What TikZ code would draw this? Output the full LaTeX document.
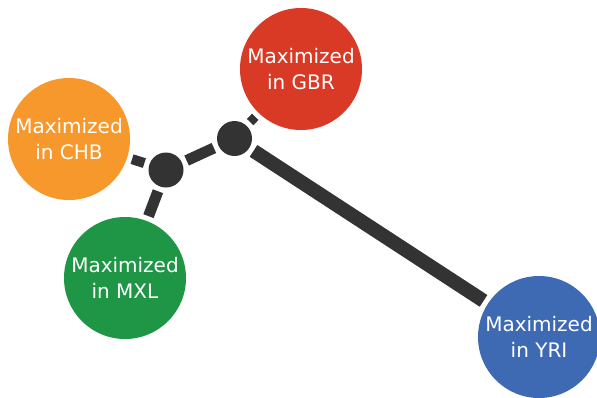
\documentclass[tikz,border=0pt]{standalone}
\usepackage{fontspec}
\setmainfont{DejaVu Sans}

\definecolor{gbrred}{RGB}{217,58,38}
\definecolor{chborange}{RGB}{246,152,43}
\definecolor{mxlgreen}{RGB}{31,150,70}
\definecolor{yriblue}{RGB}{62,106,180}
\definecolor{hubgray}{RGB}{51,51,51}

\begin{document}
\begin{tikzpicture}[x=1bp,y=-1bp,
  pop/.style={circle,minimum size=122bp,inner sep=0pt,text=white,align=center,
    font=\fontsize{20bp}{26bp}\selectfont},
  hub/.style={circle,fill=hubgray,minimum size=35bp,inner sep=0pt},
  link/.style={draw=hubgray,shorten <=5bp,shorten >=5bp}]
% Canvas
\useasboundingbox (0,0) rectangle (597,397);

% Populations
\node[pop,fill=gbrred] (gbr) at (301,69) {Maximized\\in GBR};
\node[pop,fill=chborange] (chb) at (69,139) {Maximized\\in CHB};
\node[pop,fill=mxlgreen] (mxl) at (125,278) {Maximized\\in MXL};
\node[pop,fill=yriblue] (yri) at (539,337) {Maximized\\in YRI};

% Inner nodes
\node[hub] (n1) at (166,170) {};
\node[hub] (n2) at (234.5,138.5) {};

% Branches
\draw[link,line width=10bp] (n1) -- (chb);
\draw[link,line width=11bp] (n1) -- (mxl);
\draw[link,line width=11bp] (n1) -- (n2);
\draw[link,line width=9bp] (n2) -- (gbr);
\draw[link,line width=14bp] (n2) -- (yri);
\end{tikzpicture}
\end{document}
